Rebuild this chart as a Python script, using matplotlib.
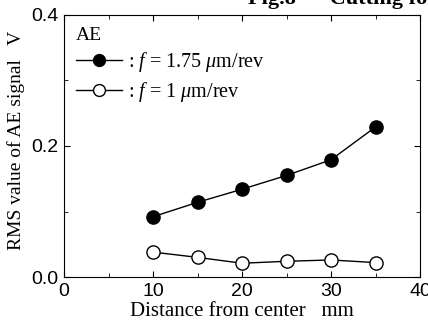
import matplotlib
matplotlib.use("Agg")
import matplotlib.pyplot as plt
from matplotlib.ticker import MultipleLocator

distance = [10, 15, 20, 25, 30, 35]
rms_f175 = [0.092, 0.114, 0.134, 0.155, 0.179, 0.229]
rms_f1 = [0.038, 0.030, 0.021, 0.024, 0.026, 0.022]

plt.rcParams['mathtext.fontset'] = 'custom'
plt.rcParams['mathtext.rm'] = 'Liberation Serif'
plt.rcParams['mathtext.it'] = 'Liberation Serif:italic'

fig = plt.figure(figsize=(4.28, 3.22), dpi=100)
ax = fig.add_axes([64 / 428, 1 - 277 / 322, 356 / 428, 262 / 322])

ax.plot(distance, rms_f175, '-o', color='black', mfc='black', mec='black',
        ms=9.5, lw=1, label=r': $f$ = 1.75 $\mu$m/rev')
ax.plot(distance, rms_f1, '-o', color='black', mfc='white', mec='black',
        ms=9.5, lw=1, label=r': $f$ = 1 $\mu$m/rev')

ax.set_xlim(0, 40)
ax.set_ylim(0, 0.4)
ax.xaxis.set_major_locator(MultipleLocator(10))
ax.xaxis.set_minor_locator(MultipleLocator(5))
ax.yaxis.set_major_locator(MultipleLocator(0.2))
ax.yaxis.set_minor_locator(MultipleLocator(0.1))
ax.yaxis.set_major_formatter(matplotlib.ticker.FormatStrFormatter('%.1f'))
ax.tick_params(which='both', direction='in', top=True, right=True)
ax.tick_params(which='major', length=4, labelsize=14, pad=4)
ax.tick_params(which='minor', length=3)
for lab in ax.get_xticklabels() + ax.get_yticklabels():
    lab.set_fontfamily('Liberation Sans')

ax.set_xlabel('Distance from center   mm', family='Liberation Serif',
              fontsize=15, labelpad=2)
ax.set_ylabel('RMS value of AE signal   V', family='Liberation Serif',
              fontsize=14)
ax.yaxis.set_label_coords(-0.11, 0.52)

leg = ax.legend(loc='upper left', title='AE', frameon=False,
                prop={'family': 'Liberation Serif', 'size': 14.5},
                handlelength=2.3, handletextpad=0.3, borderaxespad=0.4,
                labelspacing=0.3, borderpad=0.2, markerscale=0.9)
leg.get_title().set_fontfamily('Liberation Serif')
leg.get_title().set_fontsize(14)
leg._legend_box.align = 'left'

fig.text(248 / 428, 1 - 4 / 322, 'Fig.8      Cutting forces',
         family='Liberation Serif', fontsize=16, fontweight='bold',
         ha='left', va='baseline')

fig.savefig('out.png', dpi=100)
